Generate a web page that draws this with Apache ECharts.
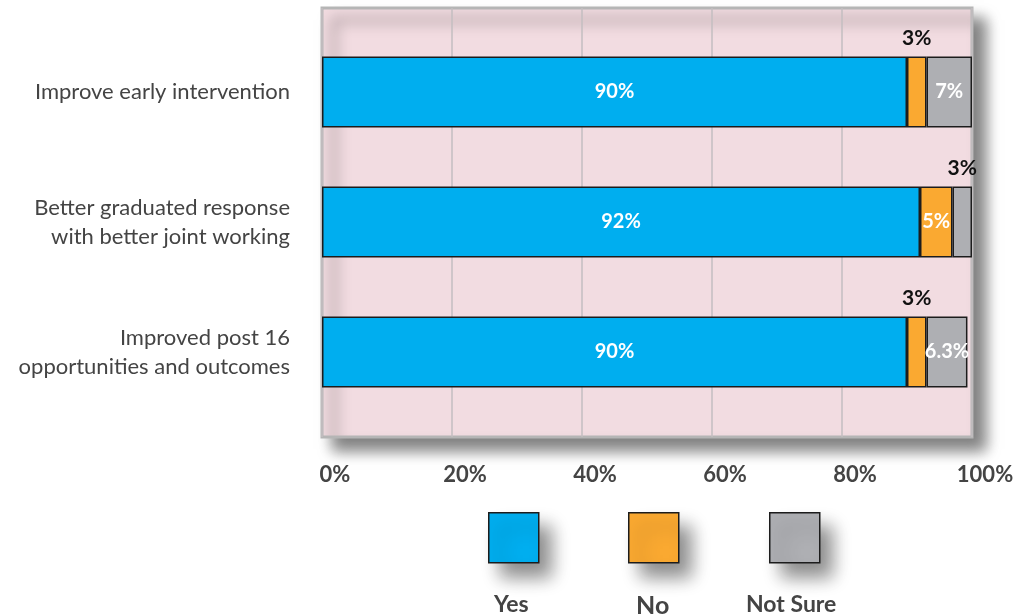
<!DOCTYPE html>
<html>
<head>
<meta charset="utf-8">
<script src="https://cdn.jsdelivr.net/npm/echarts@6/dist/echarts.min.js"></script>
<style>
html,body{margin:0;padding:0;background:#fff;}
#chart{width:1035px;height:616px;}
</style>
</head>
<body>
<div id="chart"></div>
<script>
const categories = [
  'Improve early intervention',
  'Better graduated response\nwith better joint working',
  'Improved post 16\nopportunities and outcomes'
];
const seriesNames = ['Yes', 'No', 'Not Sure'];
const yesValues = [90, 92, 90];
const noValues = [3, 5, 3];
const notSureValues = [7, 3, 6.3];
const xTicks = [0, 20, 40, 60, 80, 100];

const colors = ['#00aeef', '#faa931', '#aeafb3'];
const FONT = 'Lato, "Open Sans", sans-serif';

// labels above the thin segments (black), inside otherwise (white)
const insideLabel = {show: true, position: 'inside', color: '#fff', fontWeight: 'bold', fontSize: 20, fontFamily: FONT, formatter: '{c}%'};
const topLabel = {show: true, position: 'top', distance: 8, color: '#111', fontWeight: 'bold', fontSize: 21, fontFamily: FONT, formatter: '{c}%'};

function build(values, topIdx) {
  return values.map((v, i) => ({value: v, label: topIdx.includes(i) ? topLabel : insideLabel}));
}

const barItem = (c) => ({color: c, borderColor: '#1c1c1c', borderWidth: 1.5});

const chart = echarts.init(document.getElementById('chart'), null, {renderer: 'canvas'});

function legendIcon(name, left) {
  return {
    data: [{name: name, icon: 'rect'}], left: left, top: 512, padding: 0, itemWidth: 50, itemHeight: 50,
    formatter: () => '', selectedMode: false,
    itemStyle: {borderColor: '#1c1c1c', borderWidth: 1.5, shadowBlur: 18, shadowColor: 'rgba(0,0,0,0.45)', shadowOffsetX: 12, shadowOffsetY: 14},
    textStyle: {fontSize: 1}
  };
}
function legendText(name, left, size) {
  return {
    data: [{name: name, icon: 'none'}], left: left, top: 593, padding: 0, itemWidth: 0, itemHeight: 10, selectedMode: false,
    textStyle: {fontSize: size || 23, fontWeight: 'bold', color: '#444', fontFamily: FONT}
  };
}

chart.setOption({
  animation: false,
  grid: [
    {left: 322, top: 8, width: 650, height: 429, show: true, backgroundColor: '#f2dce1',
     borderColor: '#b5b5b5', borderWidth: 3, shadowBlur: 14, shadowColor: 'rgba(0,0,0,0.5)', shadowOffsetX: 12, shadowOffsetY: 12},
    {left: 322, top: 27, width: 650, height: 390}
  ],
  xAxis: [
    {gridIndex: 0, type: 'value', min: xTicks[0], max: xTicks[xTicks.length - 1], interval: 20,
     axisLine: {show: false}, axisTick: {show: false},
     splitLine: {show: true, lineStyle: {color: '#c3bec1', width: 1.5}},
     axisLabel: {formatter: '{value}%', fontSize: 22, fontWeight: 'bold', color: '#444', fontFamily: FONT, margin: 27, padding: [0, 0, 0, 26]}},
    {gridIndex: 1, type: 'value', min: 0, max: 100, show: false}
  ],
  yAxis: [
    {gridIndex: 0, type: 'value', show: false, splitLine: {show: false}},
    {gridIndex: 1, type: 'category', data: categories, inverse: true,
     axisLine: {show: false}, axisTick: {show: false},
     axisLabel: {fontSize: 22, color: '#444', fontFamily: FONT, margin: 32, lineHeight: 29, align: 'right'}}
  ],
  legend: [
    legendIcon('Yes', 488), legendIcon('No', 628), legendIcon('Not Sure', 769),
    legendText('Yes', 489), legendText('No', 631, 25), legendText('Not Sure', 741)
  ],
  series: [
    {name: seriesNames[0], type: 'bar', stack: 'total', xAxisIndex: 1, yAxisIndex: 1, barWidth: 71,
     itemStyle: barItem(colors[0]), data: build(yesValues, [])},
    {name: seriesNames[1], type: 'bar', stack: 'total', xAxisIndex: 1, yAxisIndex: 1, barWidth: 71,
     itemStyle: barItem(colors[1]), data: build(noValues, [0, 2])},
    {name: seriesNames[2], type: 'bar', stack: 'total', xAxisIndex: 1, yAxisIndex: 1, barWidth: 71,
     itemStyle: barItem(colors[2]), data: build(notSureValues, [1])}
  ]
});
</script>
</body>
</html>
